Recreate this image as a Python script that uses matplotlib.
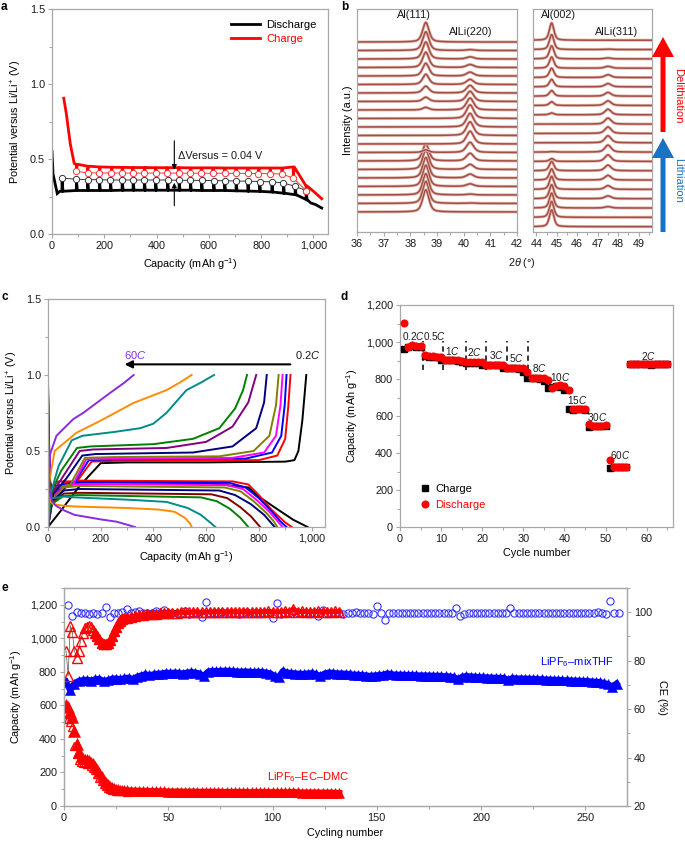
import numpy as np
import matplotlib
matplotlib.use('Agg')
import matplotlib.pyplot as plt
from matplotlib.ticker import MultipleLocator, FuncFormatter
from matplotlib.patches import FancyArrow

plt.rcParams.update({
    'font.family': ['Liberation Sans', 'DejaVu Sans'],
    'mathtext.fontset': 'custom',
    'mathtext.rm': 'Liberation Sans',
    'mathtext.it': 'Liberation Sans:italic',
    'mathtext.bf': 'Liberation Sans:bold',
    'font.size': 7.8,
})

# ---------------- DATA ----------------
# panel a (GITT)
a_dis_pulse = [38, 93, 136, 181, 223, 268, 310, 353, 396, 442, 486, 529, 572, 618, 660, 704, 749, 794, 841, 885, 930, 972]
a_dis_base = [0.285, 0.29, 0.29, 0.29, 0.29, 0.292, 0.292, 0.292, 0.292, 0.292, 0.292, 0.292, 0.29, 0.29, 0.29, 0.288, 0.286, 0.284, 0.28, 0.272, 0.262, 0.23]
a_dis_relax = [0.373, 0.365, 0.363, 0.362, 0.36, 0.36, 0.36, 0.36, 0.36, 0.36, 0.358, 0.358, 0.357, 0.356, 0.355, 0.353, 0.352, 0.35, 0.348, 0.34, 0.318, 0.29]
a_dis_lead_x = [0, 4, 20, 30]
a_dis_lead_y = [0.55, 0.40, 0.27, 0.285]
a_dis_tail_x = [990, 1010, 1032]
a_dis_tail_y = [0.207, 0.195, 0.173]

a_chg_pulse = [93, 136, 181, 227, 268, 308, 353, 396, 439, 484, 529, 571, 615, 660, 703, 748, 790, 834, 879, 923, 972]
a_chg_base = [0.465, 0.452, 0.447, 0.445, 0.444, 0.443, 0.443, 0.442, 0.442, 0.442, 0.441, 0.441, 0.441, 0.44, 0.44, 0.44, 0.44, 0.44, 0.44, 0.447, 0.32]
a_chg_relax = [0.418, 0.408, 0.407, 0.407, 0.406, 0.406, 0.406, 0.406, 0.406, 0.406, 0.405, 0.405, 0.405, 0.405, 0.404, 0.404, 0.403, 0.402, 0.4, 0.373, 0.289]
a_chg_lead_x = [45, 55, 70, 85]
a_chg_lead_y = [0.905, 0.8, 0.6, 0.47]
a_chg_tail_x = [990, 1010, 1032]
a_chg_tail_y = [0.30, 0.27, 0.235]

# panel b (XRD) peak heights in units of stacking offset, bottom -> top
b_al111 = [2.6, 2.6, 2.5, 2.5, 2.4, 2.3, 2.0, 0.3, 0.0, 0.0, 0.0, 0.0, 0.3, 0.5, 0.8, 1.2, 1.5, 1.8, 2.0, 2.2, 2.3]
b_alli220 = [0.0, 0.05, 0.1, 0.3, 0.45, 0.6, 0.9, 1.2, 1.5, 1.6, 1.6, 1.6, 1.4, 1.2, 0.9, 0.6, 0.45, 0.35, 0.25, 0.1, 0.0]
b_al002 = [1.8, 1.7, 1.6, 1.5, 1.4, 1.2, 1.0, 0.3, 0.05, 0.0, 0.0, 0.0, 0.2, 0.4, 0.6, 0.8, 1.0, 1.2, 1.4, 1.6, 1.85]
b_alli311 = [0.0, 0.0, 0.15, 0.3, 0.4, 0.5, 0.6, 0.7, 0.75, 0.75, 0.7, 0.65, 0.6, 0.5, 0.4, 0.35, 0.3, 0.2, 0.1, 0.05, 0.0]
b_pos = {'Al(111)': 38.58, 'AlLi(220)': 40.24, 'Al(002)': 44.75, 'AlLi(311)': 47.5}

# panel c (rate curves)
c_rates = ['0.2C', '0.5C', '1C', '2C', '3C', '5C', '8C', '10C', '15C', '30C', '60C']
c_chg_colors = ['#000000', '#ff0000', '#0000ff', '#ff00ff', '#808000', '#000080', '#800080', '#008000', '#008b8b', '#ff8c00', '#8a2be2']
c_dis_colors = ['#000000', '#ff0000', '#0000ff', '#ff00ff', '#808000', '#000080', '#800000', '#008000', '#008b8b', '#ff8c00', '#8a2be2']
c_chg_x = [
    [0, 50, 120, 200, 300, 600, 900, 935, 950, 965, 980],
    [0, 25, 40, 110, 165, 250, 800, 870, 900, 912, 920],
    [0, 25, 100, 155, 250, 750, 850, 885, 898, 905],
    [0, 25, 95, 145, 250, 700, 820, 865, 882, 890],
    [0, 25, 85, 140, 250, 650, 780, 840, 865, 875],
    [0, 20, 70, 130, 180, 550, 700, 790, 820, 830],
    [0, 15, 60, 120, 170, 450, 600, 700, 760, 790],
    [0, 15, 50, 110, 160, 400, 550, 650, 710, 740, 755],
    [0, 10, 40, 90, 130, 250, 350, 400, 449, 525, 580, 630],
    [0, 5, 25, 108, 200, 323, 449, 500, 545],
    [0, 3, 8, 32, 96, 133, 234, 290, 325],
]
c_chg_y = [
    [0.0, 0.11, 0.27, 0.42, 0.425, 0.425, 0.43, 0.44, 0.5, 0.7, 1.0],
    [0.0, 0.28, 0.30, 0.30, 0.43, 0.435, 0.44, 0.47, 0.58, 0.8, 1.0],
    [0.0, 0.27, 0.29, 0.44, 0.445, 0.45, 0.49, 0.6, 0.8, 1.0],
    [0.0, 0.26, 0.28, 0.445, 0.45, 0.455, 0.49, 0.6, 0.8, 1.0],
    [0.0, 0.25, 0.28, 0.455, 0.46, 0.465, 0.5, 0.6, 0.8, 1.0],
    [0.0, 0.22, 0.32, 0.47, 0.48, 0.49, 0.53, 0.65, 0.82, 1.0],
    [0.0, 0.22, 0.34, 0.5, 0.51, 0.52, 0.56, 0.66, 0.82, 1.0],
    [0.0, 0.24, 0.37, 0.52, 0.53, 0.545, 0.58, 0.65, 0.78, 0.9, 1.0],
    [0.0, 0.22, 0.4, 0.57, 0.6, 0.625, 0.65, 0.68, 0.75, 0.9, 0.95, 1.0],
    [0.0, 0.3, 0.5, 0.62, 0.7, 0.815, 0.9, 0.95, 1.0],
    [0.0, 0.3, 0.48, 0.6, 0.71, 0.75, 0.88, 0.95, 1.0],
]
c_dis_x = [
    [0, 3, 8, 20, 40, 80, 130, 600, 760, 800, 854, 930, 985],
    [0, 3, 8, 15, 30, 60, 120, 700, 760, 800, 850, 900, 925],
    [0, 3, 8, 15, 30, 60, 120, 690, 750, 800, 850, 880, 905],
    [0, 3, 8, 15, 30, 60, 120, 680, 740, 790, 840, 870, 890],
    [0, 3, 8, 15, 30, 60, 120, 670, 730, 780, 830, 855, 870],
    [0, 3, 8, 15, 30, 60, 120, 650, 710, 770, 820, 845, 860],
    [0, 3, 8, 15, 30, 60, 120, 620, 680, 730, 770, 790, 805],
    [0, 3, 8, 15, 30, 60, 120, 580, 640, 690, 730, 750, 760],
    [0, 3, 8, 20, 60, 100, 300, 450, 530, 580, 615, 635],
    [0, 3, 8, 20, 60, 100, 300, 420, 480, 520, 540, 545],
    [0, 5, 15, 30, 60, 100, 150, 200, 260, 300, 330],
]
c_dis_y = [
    [0.97, 0.6, 0.3, 0.2, 0.22, 0.28, 0.295, 0.29, 0.26, 0.2, 0.136, 0.048, 0.0],
    [0.93, 0.6, 0.3, 0.2, 0.23, 0.29, 0.305, 0.30, 0.28, 0.21, 0.11, 0.03, 0.0],
    [0.9, 0.55, 0.28, 0.19, 0.21, 0.28, 0.295, 0.29, 0.26, 0.19, 0.1, 0.04, 0.0],
    [0.88, 0.5, 0.27, 0.19, 0.21, 0.27, 0.283, 0.275, 0.25, 0.18, 0.1, 0.04, 0.0],
    [0.85, 0.45, 0.25, 0.18, 0.2, 0.26, 0.27, 0.26, 0.235, 0.17, 0.09, 0.04, 0.0],
    [0.8, 0.4, 0.23, 0.17, 0.19, 0.24, 0.25, 0.24, 0.21, 0.15, 0.08, 0.03, 0.0],
    [0.75, 0.35, 0.21, 0.16, 0.18, 0.22, 0.225, 0.215, 0.19, 0.13, 0.07, 0.03, 0.0],
    [0.7, 0.3, 0.19, 0.15, 0.17, 0.205, 0.21, 0.195, 0.17, 0.12, 0.06, 0.02, 0.0],
    [0.65, 0.3, 0.2, 0.19, 0.2, 0.195, 0.18, 0.165, 0.125, 0.08, 0.03, 0.0],
    [0.6, 0.3, 0.17, 0.15, 0.14, 0.135, 0.125, 0.115, 0.1, 0.06, 0.02, 0.0],
    [0.5, 0.25, 0.17, 0.14, 0.11, 0.08, 0.065, 0.05, 0.035, 0.015, 0.0],
]

# panel d (rate capability)
d_cycles = list(range(1, 66))
d_discharge = [1105, 975, 985, 980, 978, 932, 925, 922, 920, 918, 905, 905, 904, 903, 900,
               892, 893, 892, 891, 890, 876, 876, 875, 875, 874, 862, 862, 860, 860, 858,
               836, 808, 806, 805, 803, 792, 750, 762, 766, 762, 741, 639, 640, 640, 638,
               556, 547, 548, 548, 550, 360, 324, 325, 325, 325,
               882, 882, 881, 882, 881, 880, 882, 881, 882, 881]
d_charge = [961, 972, 976, 975, 974, 925, 921, 919, 917, 905, 902, 902, 901, 899, 891,
            889, 889, 889, 887, 876, 875, 874, 874, 873, 861, 859, 858, 858, 856, 836,
            806, 804, 803, 801, 790, 752, 759, 763, 758, 740, 639, 630, 636, 636, 634,
            541, 545, 546, 546, 545, 321, 322, 323, 323, 323,
            879, 880, 879, 880, 879, 878, 880, 879, 880, 879]
d_rate_labels = ['0.2$\\it{C}$', '0.5$\\it{C}$', '1$\\it{C}$', '2$\\it{C}$', '3$\\it{C}$', '5$\\it{C}$',
                 '8$\\it{C}$', '10$\\it{C}$', '15$\\it{C}$', '30$\\it{C}$', '60$\\it{C}$', '2$\\it{C}$']
d_label_x = [3.2, 8.3, 12.8, 18.1, 23.4, 28.4, 33.9, 38.9, 43.1, 48.0, 53.5, 60.4]
d_label_y = [1033, 1033, 954, 948, 930, 912, 857, 810, 684, 597, 390, 925]
d_div_cycles = [5.5, 10.5, 16, 21, 26, 31.2]

# panel e (long cycling)
e_thf_cap_cycles = np.arange(1, 266, 2)
e_thf_cap = [740, 690, 730, 745, 750, 752, 748, 755, 757, 745,
             750, 758, 760, 755, 762, 765, 756, 770, 778, 785,
             780, 785, 788, 790, 795, 792, 795, 793, 790, 795,
             798, 795, 790, 775, 800, 805, 803, 805, 806, 805,
             803, 802, 800, 802, 800, 798, 800, 798, 795, 790,
             775, 768, 805, 795, 792, 790, 788, 787, 790, 792,
             785, 775, 790, 795, 793, 790, 790, 788, 785, 783,
             782, 780, 778, 775, 778, 780, 782, 790, 785, 783,
             782, 782, 780, 780, 779, 778, 778, 777, 776, 776,
             775, 773, 772, 768, 755, 770, 775, 772, 770, 768,
             767, 766, 765, 764, 763, 762, 752, 762, 760, 760,
             759, 758, 757, 756, 755, 754, 753, 752, 751, 750,
             749, 748, 747, 746, 745, 744, 742, 740, 738, 733,
             725, 712, 730]
e_thf_ce_cycles = np.arange(2, 267, 2)
e_thf_ce = [103.0, 98.3, 100.2, 99.6, 99.7, 99.4, 99.8, 99.3, 99.6, 102.0,
            98.0, 99.8, 99.6, 100.0, 101.2, 99.7, 99.9, 100.4, 99.6, 99.8,
            99.7, 100.3, 99.6, 101.1, 99.7, 99.5, 99.8, 99.6, 100.5, 99.2,
            99.8, 99.6, 97.9, 104.4, 99.7, 99.8, 99.6, 99.9, 99.7, 99.5,
            99.8, 99.3, 99.7, 99.9, 99.6, 99.8, 99.7, 99.5, 99.8, 97.6,
            104.0, 99.3, 99.8, 99.6, 100.4, 99.7, 99.6, 99.8, 99.5, 99.7,
            98.6, 100.8, 99.7, 99.6, 99.8, 99.7, 99.4, 99.8, 99.6, 99.9,
            99.7, 99.5, 99.8, 99.2, 102.6, 99.5, 96.6, 99.6, 99.8, 99.7,
            99.6, 99.8, 99.7, 99.6, 99.8, 99.7, 99.6, 99.8, 99.7, 99.5,
            99.8, 99.7, 99.6, 101.8, 98.4, 99.2, 99.7, 99.8, 99.6, 99.7,
            99.8, 99.6, 99.7, 99.8, 99.6, 99.7, 101.9, 99.8, 99.6, 99.7,
            99.8, 99.6, 99.7, 99.8, 99.6, 99.7, 99.8, 99.6, 99.7, 99.8,
            99.6, 99.7, 99.8, 99.6, 99.7, 99.8, 99.6, 100.2, 99.7, 99.4,
            104.6, 99.6, 99.7]
e_ec_cycles = list(range(1, 31)) + list(range(32, 133, 2))
e_ec_cap = [600, 590, 560, 530, 450, 370, 320, 295, 285, 280,
            278, 272, 265, 255, 240, 222, 200, 178, 158, 142,
            130, 120, 112, 106, 102, 99, 97, 95, 94, 93,
            92, 91, 90, 90, 89, 88, 88, 87, 87, 86,
            86, 86, 85, 85, 85, 85, 84, 84, 84, 84,
            84, 84, 83, 83, 83, 83, 83, 83, 82, 82,
            82, 82, 82, 82, 82, 81, 81, 81, 81, 84,
            81, 80, 80, 80, 80, 80, 79, 79, 79, 78,
            77]
e_ec_cap_open_cycles = list(range(1, 31))
e_ec_cap_open = [520, 520, 500, 470, 360, 310, 275, 262, 258, 255,
                 252, 248, 240, 228, 212, 192, 168, 148, 132, 120,
                 110, 103, 98, 94, 92, 90, 89, 88, 87, 86]
e_ec_ce = [84.0, 73.7, 94.5, 91.7, 84.1, 81.3, 84.1, 88.3, 91.6, 93.3,
           94.0, 94.2, 93.7, 92.6, 91.6, 90.2, 88.8, 87.4, 86.7, 86.7,
           87.1, 88.5, 90.2, 92.3, 94.0, 95.4, 96.5, 97.1, 97.5, 97.8,
           98.1, 98.4, 98.7, 98.9, 99.1, 99.3, 99.4, 99.5, 99.6, 99.7,
           99.8, 99.8, 99.9, 99.9, 100.0, 100.0, 100.1, 100.0, 100.1, 100.0,
           100.1, 100.2, 100.1, 100.0, 100.1, 100.2, 100.1, 100.2, 100.1, 100.0,
           100.2, 100.1, 100.2, 100.3, 100.2, 100.1, 100.2, 100.3, 100.2, 101.3,
           100.2, 100.3, 100.2, 100.1, 100.2, 100.3, 100.2, 100.1, 100.2, 100.3,
           100.2]

# ---------------- LAYOUT ----------------
W, H = 685, 842
fig = plt.figure(figsize=(W / 100, H / 100), dpi=100)
SP = '#a8a8a8'
TXT = '#1a1a1a'
FS = 7.8
comma = FuncFormatter(lambda v, p: f'{v:,.0f}')


def box(l, t, r, b):
    return [l / W, 1 - b / H, (r - l) / W, (b - t) / H]


def style(ax):
    for s in ax.spines.values():
        s.set_color(SP)
        s.set_linewidth(0.9)
    ax.tick_params(which='both', direction='out', color=SP, labelcolor=TXT, labelsize=FS, width=0.8)
    ax.tick_params(which='major', length=3, pad=2)
    ax.tick_params(which='minor', length=2)


# ---- panel a ----
axa = fig.add_axes(box(52, 9, 328, 234))
style(axa)


def gitt(lx, ly, px, base, relax, tx, ty):
    xs, ys = list(lx), list(ly)
    for x, b, r in zip(px, base, relax):
        xs += [x, x + 0.5, x + 4]
        ys += [b, r, b]
    return xs + list(tx), ys + list(ty)


dx, dy = gitt(a_dis_lead_x, a_dis_lead_y, a_dis_pulse, a_dis_base,
              [v - 0.006 for v in a_dis_relax], a_dis_tail_x, a_dis_tail_y)
cx, cy = gitt(a_chg_lead_x, a_chg_lead_y, a_chg_pulse, a_chg_base,
              [v + 0.006 for v in a_chg_relax], a_chg_tail_x, a_chg_tail_y)
axa.plot(dx, dy, color='black', lw=2.0, label='Discharge', solid_joinstyle='miter')
axa.plot(cx, cy, color='#ff0000', lw=2.0, label='Charge')
axa.plot(a_dis_pulse, a_dis_relax, '-o', color='#333333', lw=0.7, ms=4.5, mfc='white', mec='#333333', mew=0.7)
axa.plot(a_chg_pulse, a_chg_relax, '-o', color='#ff3030', lw=0.7, ms=4.5, mfc='white', mec='#ff3030', mew=0.7)
axa.annotate('', xy=(468, 0.41), xytext=(468, 0.64),
             arrowprops=dict(arrowstyle='-|>', color='black', lw=0.8, mutation_scale=7))
axa.annotate('', xy=(468, 0.36), xytext=(468, 0.17),
             arrowprops=dict(arrowstyle='-|>', color='black', lw=0.8, mutation_scale=7))
axa.text(484, 0.518, '\u0394Versus = 0.04 V', fontsize=FS, va='center', color=TXT)
axa.set_xlim(0, 1056)
axa.set_ylim(0, 1.5)
axa.xaxis.set_major_locator(MultipleLocator(200))
axa.xaxis.set_minor_locator(MultipleLocator(100))
axa.xaxis.set_major_formatter(comma)
axa.yaxis.set_major_locator(MultipleLocator(0.5))
axa.yaxis.set_minor_locator(MultipleLocator(0.25))
axa.yaxis.set_major_formatter(FuncFormatter(lambda v, p: f'{v:.1f}'))
axa.set_xlabel('Capacity (mAh g$^{-1}$)', fontsize=FS, labelpad=4)
axa.set_ylabel('Potential versus Li/Li$^{+}$ (V)', fontsize=FS, labelpad=4)
axa.legend(loc='upper right', frameon=False, fontsize=8, labelcolor='linecolor',
           handlelength=2.6, handletextpad=0.6, borderaxespad=0.6, labelspacing=0.35)

# ---- panel b ----
def peak(x, x0, g):
    return 0.5 / (1 + ((x - x0) / g) ** 2) + 0.5 * np.exp(-np.log(2) * ((x - x0) / g) ** 2)


BCOL = '#a24f45'
axb1 = fig.add_axes(box(357, 9, 517, 232))
axb2 = fig.add_axes(box(533, 9, 652, 232))
for ax in (axb1, axb2):
    style(ax)
    ax.set_yticks([])
    ax.set_ylim(0, 1)
    ax.xaxis.set_major_locator(MultipleLocator(1))
    ax.xaxis.set_minor_locator(MultipleLocator(0.5))
xl = np.linspace(36, 42, 1201)
xr = np.linspace(43.84, 49.65, 1201)
nb = len(b_al111)
for i in range(nb):
    off = 0.09 + i * 0.0381
    yl = off + 0.0381 * (b_al111[i] * peak(xl, b_pos['Al(111)'], 0.14)
                         + b_alli220[i] * peak(xl, b_pos['AlLi(220)'], 0.16))
    axb1.plot(xl, yl, color='#e3b8b0', lw=2.2)
    axb1.plot(xl, yl, color=BCOL, lw=1.1)
    off2 = 0.024 + i * 0.0418
    yr = off2 + 0.0418 * (b_al002[i] * peak(xr, b_pos['Al(002)'], 0.13)
                          + b_alli311[i] * peak(xr, b_pos['AlLi(311)'], 0.18))
    axb2.plot(xr, yr, color='#e3b8b0', lw=2.2)
    axb2.plot(xr, yr, color=BCOL, lw=1.1)
axb1.set_xlim(36, 42)
axb2.set_xlim(43.84, 49.65)
axb1.set_ylabel('Intensity (a.u.)', fontsize=FS, labelpad=3)
axb1.text(38.12, 0.973, 'Al(111)', ha='center', va='center', fontsize=FS, color=TXT)
axb1.text(40.25, 0.897, 'AlLi(220)', ha='center', va='center', fontsize=FS, color=TXT)
axb2.text(45.1, 0.973, 'Al(002)', ha='center', va='center', fontsize=FS, color=TXT)
axb2.text(47.9, 0.897, 'AlLi(311)', ha='center', va='center', fontsize=FS, color=TXT)

# ---- panel c ----
axc = fig.add_axes(box(48, 299, 325, 527))
style(axc)
for i in range(len(c_rates)):
    axc.plot(c_chg_x[i], c_chg_y[i], color=c_chg_colors[i], lw=1.4)
    axc.plot(c_dis_x[i], c_dis_y[i], color=c_dis_colors[i], lw=1.4)
axc.annotate('', xy=(280, 1.07), xytext=(930, 1.07),
             arrowprops=dict(arrowstyle='-|>', color='black', lw=1.5, mutation_scale=11))
axc.text(1033, 1.13, '0.2$\\it{C}$', ha='right', va='center', fontsize=8, color=TXT)
axc.text(330, 1.13, '60$\\it{C}$', ha='center', va='center', fontsize=8, color='#8a2be2')
axc.set_xlim(0, 1051)
axc.set_ylim(0, 1.5)
axc.xaxis.set_major_locator(MultipleLocator(200))
axc.xaxis.set_minor_locator(MultipleLocator(100))
axc.xaxis.set_major_formatter(comma)
axc.yaxis.set_major_locator(MultipleLocator(0.5))
axc.yaxis.set_minor_locator(MultipleLocator(0.25))
axc.yaxis.set_major_formatter(FuncFormatter(lambda v, p: f'{v:.1f}'))
axc.set_xlabel('Capacity (mAh g$^{-1}$)', fontsize=FS, labelpad=4)
axc.set_ylabel('Potential versus Li/Li$^{+}$ (V)', fontsize=FS, labelpad=4)

# ---- panel d ----
axd = fig.add_axes(box(400, 305, 673, 527))
style(axd)
axd.plot(d_cycles, d_charge, 's', color='black', ms=4.3, label='Charge', zorder=3)
axd.plot(d_cycles, d_discharge, 'o', color='#ff0000', ms=4.8, label='Discharge', zorder=4)
for xv in d_div_cycles:
    axd.plot([xv, xv], [850, 1005], color='black', lw=1.1, ls=(0, (3.5, 2.5)), zorder=2)
for lab, xv, yv in zip(d_rate_labels, d_label_x, d_label_y):
    axd.text(xv, yv, lab, ha='center', va='center', fontsize=7.2, color=TXT)
axd.set_xlim(0, 66.4)
axd.set_ylim(0, 1200)
axd.xaxis.set_major_locator(MultipleLocator(10))
axd.xaxis.set_minor_locator(MultipleLocator(5))
axd.yaxis.set_major_locator(MultipleLocator(200))
axd.yaxis.set_minor_locator(MultipleLocator(100))
axd.yaxis.set_major_formatter(comma)
axd.set_xlabel('Cycle number', fontsize=FS, labelpad=3)
axd.set_ylabel('Capacity (mAh g$^{-1}$)', fontsize=FS, labelpad=4)
axd.legend(loc='lower left', bbox_to_anchor=(0.04, 0.03), frameon=False, fontsize=8,
           labelcolor='markerfacecolor', handlelength=0.8, handletextpad=0.5, labelspacing=0.55)

# ---- panel e ----
axe = fig.add_axes(box(64, 588, 627, 806))
style(axe)
axe2 = axe.twinx()
style(axe2)
axe.plot(e_thf_cap_cycles, e_thf_cap, '-', color='#0000ff', lw=4.5, zorder=2)
axe.plot(e_thf_cap_cycles, e_thf_cap, '^', color='#0000ff', ms=6.5, mew=0.4, zorder=3)
axe.plot(e_ec_cap_open_cycles, e_ec_cap_open, '^', color='#ff0000', mfc='none', ms=6, mew=0.9, zorder=3)
axe.plot(e_ec_cycles[20:], e_ec_cap[20:], '-', color='#ff0000', lw=4.5, zorder=3)
axe.plot(e_ec_cycles, e_ec_cap, '^', color='#ff0000', ms=6.5, mew=0.4, zorder=4)
axe.plot(e_ec_cycles[:7], e_ec_cap[:7], '^', color='#ff0000', ms=8.5, mew=0.4, zorder=4)
axe2.plot(e_thf_ce_cycles, e_thf_ce, 'o', color='#3535ff', mfc='none', ms=5.2, mew=0.8)
axe2.plot(e_ec_cycles[:14], e_ec_ce[:14], '-', color='#555555', lw=0.5)
axe2.plot(e_ec_cycles[30:], e_ec_ce[30:], '-', color='#ff0000', lw=3.5)
axe2.plot(e_ec_cycles, e_ec_ce, '^', color='#ff0000', mfc='none', ms=6.5, mew=1.0)
axe2.plot(e_ec_cycles[14:40], e_ec_ce[14:40], '^', color='#ff0000', ms=6.5, mew=0.5)
axe.set_xlim(0, 270)
axe.set_ylim(0, 1300)
axe2.set_ylim(20, 110)
axe.xaxis.set_major_locator(MultipleLocator(50))
axe.xaxis.set_minor_locator(MultipleLocator(25))
axe.yaxis.set_major_locator(MultipleLocator(200))
axe.yaxis.set_minor_locator(MultipleLocator(100))
axe.yaxis.set_major_formatter(comma)
axe2.yaxis.set_minor_locator(MultipleLocator(10))
axe2.set_yticks([20, 40, 60, 80, 100])
axe.set_xlabel('Cycling number', fontsize=FS, labelpad=4)
axe.set_ylabel('Capacity (mAh g$^{-1}$)', fontsize=FS, labelpad=4)
axe2.set_ylabel('CE (%)', fontsize=FS, rotation=270, labelpad=11)
axe.text(246, 860, 'LiPF$_6$\u2013mixTHF', color='#0000ff', ha='center', va='center', fontsize=8)
axe.text(117, 173, 'LiPF$_6$\u2013EC\u2013DMC', color='#ff0000', ha='center', va='center', fontsize=8)

# ---- overlay: panel letters, shared label, arrows ----
ov = fig.add_axes([0, 0, 1, 1])
ov.set_xlim(0, W)
ov.set_ylim(H, 0)
ov.axis('off')
ov.patch.set_visible(False)
for lab, x, y in [('a', 1, 1), ('b', 341, 1), ('c', 1, 291), ('d', 341, 291), ('e', 1, 582)]:
    ov.text(x, y, lab, fontsize=8.5, fontweight='bold', va='top', ha='left', color='black')
ov.text(522, 263, '2$\\theta$ (\u00b0)', fontsize=FS, ha='center', va='center', color=TXT)
ov.add_patch(FancyArrow(663, 132, 0, -95, width=5, head_width=22, head_length=20,
                        length_includes_head=True, color='#ff0000', lw=0))
ov.add_patch(FancyArrow(663, 232, 0, -94, width=5, head_width=22, head_length=20,
                        length_includes_head=True, color='#1a72c2', lw=0))
ov.text(678, 96, 'Delithiation', rotation=270, color='#ff0000', fontsize=8, ha='center', va='center')
ov.text(678, 180, 'Lithiation', rotation=270, color='#1a72c2', fontsize=8, ha='center', va='center')

fig.savefig('out.png', dpi=100)
